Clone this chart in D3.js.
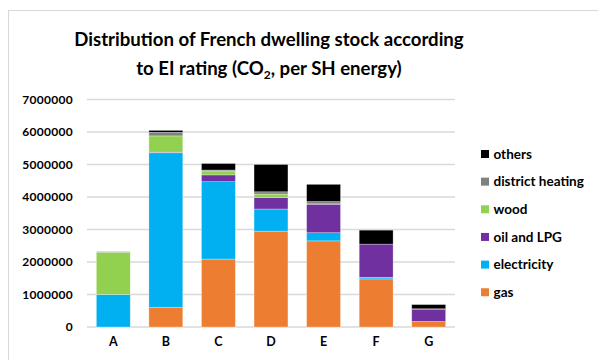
<!DOCTYPE html>
<html>
<head>
<meta charset="utf-8">
<script src="https://cdn.jsdelivr.net/npm/d3@7"></script>
<style>
  body { margin: 0; background: #fff; }
  text { font-family: Lato, "Open Sans", sans-serif; font-weight: bold; fill: #000; }
</style>
</head>
<body>
<div id="chart"></div>
<script>
// chart data (dwellings)
var categories = ["A", "B", "C", "D", "E", "F", "G"];
var gas = [0, 600000, 2090000, 2950000, 2650000, 1480000, 170000];
var electricity = [1000000, 4760000, 2380000, 680000, 250000, 50000, 0];
var oilLPG = [0, 20000, 210000, 350000, 880000, 1020000, 380000];
var wood = [1300000, 500000, 120000, 110000, 10000, 0, 0];
var districtHeating = [20000, 110000, 30000, 70000, 70000, 0, 10000];
var others = [0, 60000, 200000, 840000, 530000, 430000, 130000];
var yTicks = [0, 1000000, 2000000, 3000000, 4000000, 5000000, 6000000, 7000000];

var seriesNames = ["gas", "electricity", "oil and LPG", "wood", "district heating", "others"];
var seriesValues = [gas, electricity, oilLPG, wood, districtHeating, others];
var colors = ["#ED7D31", "#00B0F0", "#7030A0", "#92D050", "#808080", "#000000"];

var width = 598;
var height = 360;
var plotLeft = 87, plotRight = 455, plotTop = 99.5, plotBottom = 327;

var svg = d3.select("#chart")
  .append("svg")
  .attr("width", width)
  .attr("height", height);

// chart border
svg.append("rect")
  .attr("x", 8.5).attr("y", 10.5)
  .attr("width", 620).attr("height", 380)
  .attr("fill", "#fff")
  .attr("stroke", "#d9d9d9");

// title
var title = svg.append("text")
  .attr("text-anchor", "middle")
  .attr("font-size", 18.6);
title.append("tspan").attr("x", 269).attr("y", 46).text("Distribution of French dwelling stock according");
var line2 = title.append("tspan").attr("x", 269).attr("y", 75);
line2.append("tspan").text("to EI rating (CO");
line2.append("tspan").attr("font-size", 12).attr("dy", 4).text("2");
line2.append("tspan").attr("dy", -4).text(", per SH energy)");

// stack the rows
var rows = categories.map(function(c, i) {
  var r = { cat: c };
  seriesNames.forEach(function(s, j) { r[s] = seriesValues[j][i]; });
  return r;
});
var stacked = d3.stack().keys(seriesNames)(rows);

var x = d3.scaleBand()
  .domain(categories)
  .range([plotLeft, plotRight])
  .paddingInner(0.355)
  .paddingOuter(0.1775);
var y = d3.scaleLinear()
  .domain([0, 7000000])
  .range([plotBottom, plotTop]);

// gridlines
svg.append("g")
  .selectAll("line")
  .data(yTicks)
  .enter()
  .append("line")
  .attr("x1", plotLeft).attr("x2", plotRight)
  .attr("y1", function(d) { return y(d); })
  .attr("y2", function(d) { return y(d); })
  .attr("stroke", "#d9d9d9")
  .attr("stroke-width", 1.3);

// y axis labels
var yAxis = d3.axisLeft(y).tickValues(yTicks).tickSize(0).tickPadding(0)
  .tickFormat(function(d) { return String(d); });
var yg = svg.append("g")
  .attr("transform", "translate(73,0)")
  .call(yAxis);
yg.select(".domain").remove();
yg.selectAll("text")
  .attr("font-size", 12)
  .attr("letter-spacing", 0.3)
  .attr("font-family", null)
  .attr("fill", "#000");

// x axis labels
var xAxis = d3.axisBottom(x).tickSize(0).tickPadding(0);
var xg = svg.append("g")
  .attr("transform", "translate(0,337)")
  .call(xAxis);
xg.select(".domain").remove();
xg.selectAll("text").attr("font-size", 12.5).attr("font-family", null).attr("fill", "#000");

// bars
svg.append("g")
  .selectAll("g")
  .data(stacked)
  .enter()
  .append("g")
  .attr("fill", function(d, i) { return colors[i]; })
  .selectAll("rect")
  .data(function(d) { return d; })
  .enter()
  .append("rect")
  .attr("x", function(d) { return x(d.data.cat); })
  .attr("y", function(d) { return y(d[1]); })
  .attr("width", x.bandwidth())
  .attr("height", function(d) { return y(d[0]) - y(d[1]); })
  .attr("stroke", "#ffffff")
  .attr("stroke-opacity", 0.5)
  .attr("stroke-width", 0.6);

// legend, top entry is last series
var legendOrder = seriesNames.map(function(s, i) { return i; }).reverse();
var legend = svg.append("g")
  .selectAll("g")
  .data(legendOrder)
  .enter()
  .append("g")
  .attr("transform", function(d, i) { return "translate(481," + (154 + i * 27.65) + ")"; });
legend.append("rect")
  .attr("x", 0).attr("y", -4)
  .attr("width", 8).attr("height", 8)
  .attr("fill", function(d) { return colors[d]; });
legend.append("text")
  .attr("x", 12.5).attr("y", 4.8)
  .attr("font-size", 13.5)
  .text(function(d) { return seriesNames[d]; });
</script>
</body>
</html>
